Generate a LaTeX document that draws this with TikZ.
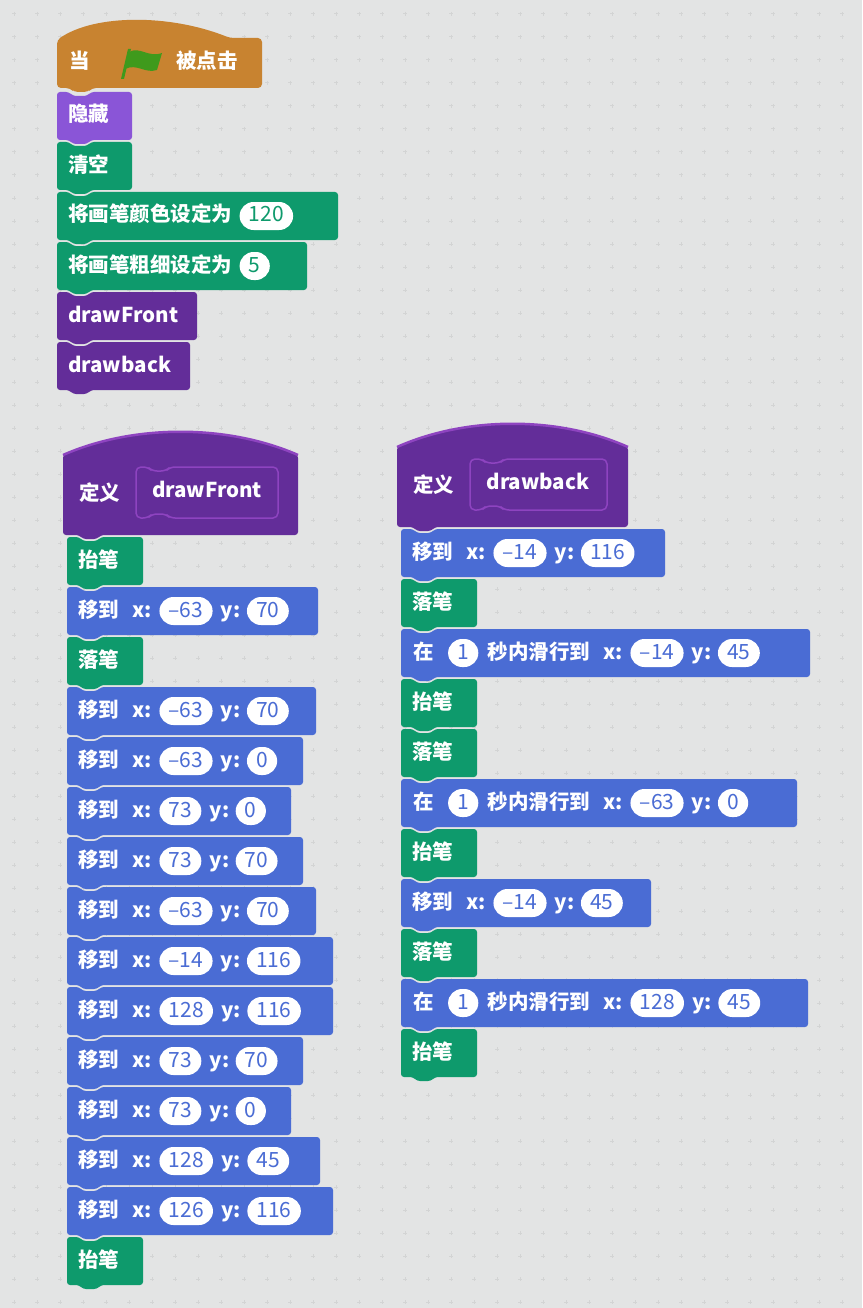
\documentclass[tikz,border=0pt]{standalone}
\usepackage{fontspec}
\setmainfont{Noto Sans CJK SC}
\usetikzlibrary{positioning,shapes.misc}
\definecolor{bg}{RGB}{227,228,228}
\definecolor{gridc}{RGB}{211,212,212}
\definecolor{motion}{HTML}{4A6CD4}
\definecolor{pen}{HTML}{0E9A6C}
\definecolor{looks}{HTML}{8A55D7}
\definecolor{more}{HTML}{632D99}
\definecolor{rim}{HTML}{8E44C0}
\definecolor{event}{HTML}{C88330}
\definecolor{flagc}{HTML}{3F9A1C}
\tikzset{
 lbl/.style={text=white,inner sep=0pt,text height=16pt,text depth=4pt,font=\bfseries\fontsize{20.5}{22}\selectfont},
 ov/.style={rounded rectangle,fill=white,minimum height=28pt,minimum width=27pt,inner xsep=6pt,inner ysep=0pt,text height=15pt,text depth=3pt,font=\fontsize{21}{22}\selectfont},
}
\newcommand\blk[4]{\fill[#4,rounded corners=3pt] (#1,#2) -- (#1+12,#2) -- (#1+16,#2+4) -- (#1+30,#2+4) -- (#1+34,#2) -- (#1+#3,#2) -- (#1+#3,#2+48) -- (#1+34,#2+48) -- (#1+30,#2+52) -- (#1+16,#2+52) -- (#1+12,#2+48) -- (#1,#2+48) -- cycle;}
\newcommand\sblk[5]{\blk{#1}{#2}{#3}{#4}\node[lbl,anchor=west] at (#1+11,#2+24) {#5};}
\newcommand\mv[5]{\blk{#1}{#2}{#5}{motion}
 \node[lbl,anchor=west] (m1) at (#1+11,#2+24) {移到};
 \node[lbl,right=13pt of m1] (m2) {x:};
 \node[ov,text=motion,right=7pt of m2] (m3) {#3};
 \node[lbl,right=8pt of m3] (m4) {y:};
 \node[ov,text=motion,right=6pt of m4] (m5) {#4};}
\newcommand\gl[5]{\blk{#1}{#2}{#5}{motion}
 \node[lbl,anchor=west] (g1) at (#1+12,#2+24) {在};
 \node[ov,text=motion,right=14pt of g1] (g2) {1};
 \node[lbl,right=9pt of g2] (g3) {秒内滑行到};
 \node[lbl,right=13pt of g3] (g4) {x:};
 \node[ov,text=motion,right=7pt of g4] (g5) {#3};
 \node[lbl,right=8pt of g5] (g6) {y:};
 \node[ov,text=motion,right=6pt of g6] (g7) {#4};}
\newcommand\defhat[6]{% x ytop-of-arc-ends w peak bottom name
 \fill[more,rounded corners=3pt] (#1,#2) .. controls (#1+0.3*#3,#4-8) and (#1+0.7*#3,#4-8) .. (#1+#3,#2) -- (#1+#3,#5-2) -- (#1+38,#5-2) -- (#1+34,#5+2) -- (#1+20,#5+2) -- (#1+16,#5-2) -- (#1,#5-2) -- cycle;
 \draw[rim,line width=2.5pt] (#1,#2) .. controls (#1+0.3*#3,#4-8) and (#1+0.7*#3,#4-8) .. (#1+#3,#2);
}
\begin{document}
\begin{tikzpicture}[x=1pt,y=-1pt]
\useasboundingbox (0,0) rectangle (862,1308);
\fill[bg] (0,0) rectangle (862,1308);
\foreach \i in {0,...,37}{\foreach \j in {0,...,57}{
 \draw[gridc,line width=1pt] (14+23*\i-2,14+23*\j) -- ++(4,0) (14+23*\i,14+23*\j-2) -- ++(0,4);}}
% event hat
\fill[event,rounded corners=4pt] (57,40) .. controls (95,14) and (170,14) .. (230,38) -- (262,38) -- (262,88) -- (92,88) -- (88,92) -- (74,92) -- (70,88) -- (57,88) -- cycle;
\node[lbl,anchor=west] (w1) at (69,63) {当};
\fill[flagc] (121,79) -- (128,49) -- (131,49) -- (124,79) -- cycle;
\fill[flagc] (129,52) .. controls (140,46) and (148,58) .. (162,53) -- (157,70) .. controls (145,74) and (137,63) .. (125,69) -- cycle;
\node[lbl,anchor=west] (w2) at (176,63) {被点击};
\sblk{57}{92}{75}{looks}{隐藏}
\sblk{57}{142}{75}{pen}{清空}
\blk{57}{192}{281}{pen}
\node[lbl,anchor=west] (p1) at (68,216) {将画笔颜色设定为};
\node[ov,text=pen,right=7pt of p1] {120};
\blk{57}{242}{250}{pen}
\node[lbl,anchor=west] (p2) at (68,266) {将画笔粗细设定为};
\node[ov,text=pen,right=7pt of p2] {5};
\sblk{57}{292}{140}{more}{drawFront}
\sblk{57}{342}{133}{more}{drawback}
% define drawFront
\defhat{63}{455}{235}{432}{537}{}
\node[lbl,anchor=west] at (79,494) {定义};
\draw[rim,line width=1.5pt,rounded corners=5pt] (136,467) -- (148,467) -- (152,471) -- (166,471) -- (170,467) -- (278,467) -- (278,518) -- (170,518) -- (166,514) -- (152,514) -- (148,518) -- (136,518) -- cycle;
\node[lbl] at (207,491) {drawFront};
\sblk{67}{537}{76}{pen}{抬笔}
\mv{67}{587}{–63}{70}{251}
\sblk{67}{637}{76}{pen}{落笔}
\mv{67}{687}{–63}{70}{249}
\mv{67}{737}{–63}{0}{236}
\mv{67}{787}{73}{0}{224}
\mv{67}{837}{73}{70}{236}
\mv{67}{887}{–63}{70}{249}
\mv{67}{937}{–14}{116}{266}
\mv{67}{987}{128}{116}{266}
\mv{67}{1037}{73}{70}{236}
\mv{67}{1087}{73}{0}{224}
\mv{67}{1137}{128}{45}{253}
\mv{67}{1187}{126}{116}{266}
\sblk{67}{1237}{76}{pen}{抬笔}
% define drawback
\defhat{397}{447}{231}{424}{529}{}
\node[lbl,anchor=west] at (413,486) {定义};
\draw[rim,line width=1.5pt,rounded corners=5pt] (470,459) -- (482,459) -- (486,463) -- (500,463) -- (504,459) -- (607,459) -- (607,510) -- (504,510) -- (500,506) -- (486,506) -- (482,510) -- (470,510) -- cycle;
\node[lbl] at (538,483) {drawback};
\mv{401}{529}{–14}{116}{264}
\sblk{401}{579}{76}{pen}{落笔}
\gl{401}{629}{–14}{45}{409}
\sblk{401}{679}{76}{pen}{抬笔}
\sblk{401}{729}{76}{pen}{落笔}
\gl{401}{779}{–63}{0}{396}
\sblk{401}{829}{76}{pen}{抬笔}
\mv{401}{879}{–14}{45}{250}
\sblk{401}{929}{76}{pen}{落笔}
\gl{401}{979}{128}{45}{407}
\sblk{401}{1029}{76}{pen}{抬笔}
\end{tikzpicture}
\end{document}
